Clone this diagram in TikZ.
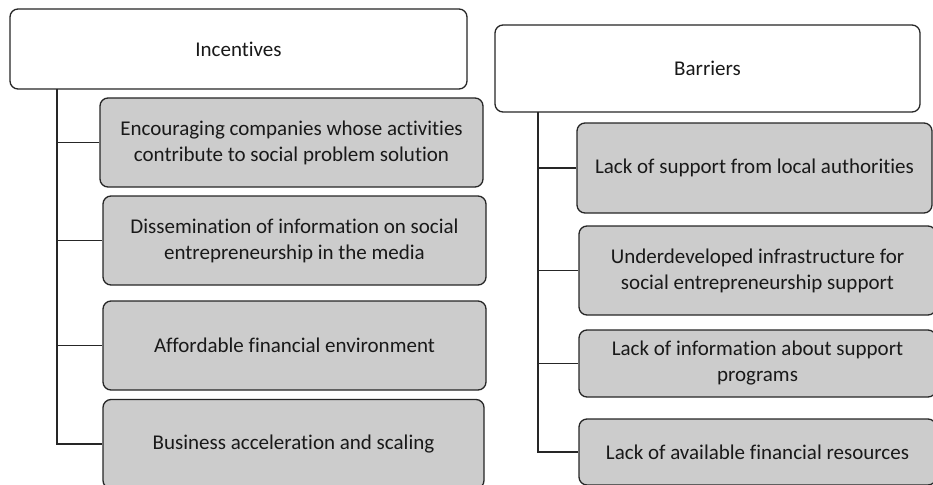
\documentclass[tikz,border=0pt]{standalone}
\usepackage{fontspec}
\setmainfont[Ligatures=NoCommon]{Carlito}
\usepackage{tikz}

\begin{document}
\begin{tikzpicture}[x=1pt, y=-1pt,
   head/.style={draw=black!85, fill=white, line width=1.3pt, rounded corners=8pt,
      inner sep=0pt, text=black!90, font=\fontsize{21}{26}\selectfont},
   item/.style={draw=black!85, fill=black!20, line width=1.3pt, rounded corners=8pt,
      inner sep=0pt, align=center, text=black!90, font=\fontsize{21}{26}\selectfont},
   link/.style={draw=black!85, line width=1.2pt}]
   \clip (0,0) rectangle (933,484);

   % incentives
   \node[head, minimum width=457pt, minimum height=80pt] (inc) at (238.5,49) {Incentives};
   \node[item, minimum width=383pt, minimum height=89pt] (inc1) at (291.5,142.5)
      {Encouraging companies whose activities\\contribute to social problem solution};
   \node[item, minimum width=383pt, minimum height=89pt] (inc2) at (294.5,240.5)
      {Dissemination of information on social\\entrepreneurship in the media};
   \node[item, minimum width=383pt, minimum height=89pt] (inc3) at (294.5,345.5)
      {Affordable financial environment};
   \node[item, minimum width=381pt, minimum height=89pt] (inc4) at (293.5,444)
      {Business acceleration and scaling};

   \coordinate (inctop) at (57,89);
   \draw[link] (inctop) |- (inc4.west);
   \draw[link] (inctop |- inc1.west) -- (inc1.west);
   \draw[link] (inctop |- inc2.west) -- (inc2.west);
   \draw[link] (inctop |- inc3.west) -- (inc3.west);

   % barriers
   \node[head, minimum width=425pt, minimum height=87pt] (bar) at (707.5,68.5) {Barriers};
   \node[item, minimum width=355pt, minimum height=90pt] (bar1) at (754.5,168)
      {Lack of support from local authorities};
   \node[item, minimum width=357pt, minimum height=89pt] (bar2) at (757.5,270.5)
      {Underdeveloped infrastructure for\\social entrepreneurship support};
   \node[item, minimum width=357pt, minimum height=67pt] (bar3) at (757.5,363.5)
      {Lack of information about support\\programs};
   \node[item, minimum width=357pt, minimum height=66pt] (bar4) at (757.5,452)
      {Lack of available financial resources};

   \coordinate (bartop) at (538,112);
   \draw[link] (bartop) |- (bar4.west);
   \draw[link] (bartop |- bar1.west) -- (bar1.west);
   \draw[link] (bartop |- bar2.west) -- (bar2.west);
   \draw[link] (bartop |- bar3.west) -- (bar3.west);
\end{tikzpicture}
\end{document}
